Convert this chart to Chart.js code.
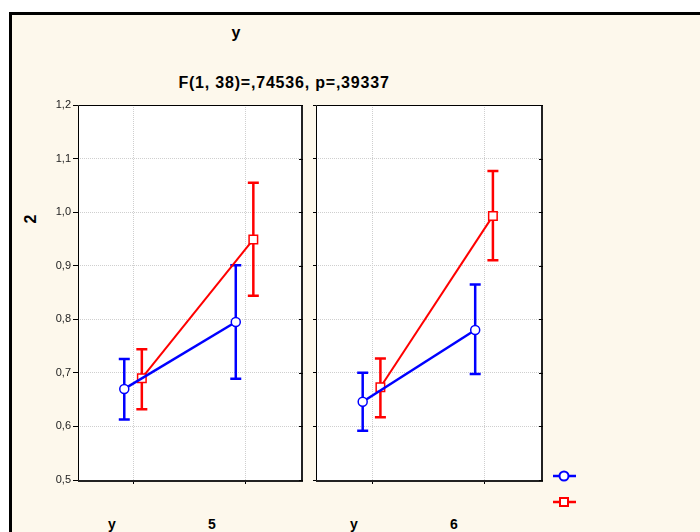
<!DOCTYPE html>
<html><head><meta charset="utf-8">
<script src="https://cdn.jsdelivr.net/npm/chart.js@4/dist/chart.umd.min.js"></script>
<style>
body{margin:0;width:700px;height:532px;overflow:hidden;background:#fff;position:relative;font-family:"Liberation Sans",Arial,sans-serif;}
#frame{position:absolute;left:9px;top:12px;width:800px;height:600px;border:3px solid #000;background:#FDF8EC;box-sizing:border-box;}
.t{position:absolute;font-weight:bold;color:#000;white-space:nowrap;transform:translateX(-50%);}
canvas{position:absolute;}
</style></head><body>
<div id="frame"></div>
<div class="t" id="tMain" style="left:236px;top:25px;font-size:16px;line-height:16px;"></div>
<div class="t" id="tStat" style="left:284px;top:75px;font-size:16px;line-height:16px;letter-spacing:0.8px;"></div>
<div class="t" id="tY" style="left:31px;top:211px;font-size:16px;line-height:16px;transform:translateX(-50%) rotate(-90deg);"></div>
<div class="t" id="xl1" style="left:112px;top:517px;font-size:14px;line-height:14px;"></div>
<div class="t" id="pl1" style="left:212px;top:517px;font-size:14px;line-height:14px;"></div>
<div class="t" id="xl2" style="left:354px;top:517px;font-size:14px;line-height:14px;"></div>
<div class="t" id="pl2" style="left:454px;top:517px;font-size:14px;line-height:14px;"></div>
<canvas id="c1" width="305" height="395" style="left:0;top:95px"></canvas>
<canvas id="c2" width="235" height="395" style="left:310px;top:95px"></canvas>
<svg style="position:absolute;left:0;top:0" width="700" height="532">
  <line x1="553" y1="476" x2="576" y2="476" stroke="#0000FF" stroke-width="2.5"/>
  <circle cx="564" cy="476" r="4.5" fill="#fff" stroke="#0000FF" stroke-width="2"/>
  <line x1="553" y1="502" x2="576" y2="502" stroke="#FF0000" stroke-width="2.5"/>
  <rect x="560" y="498" width="8" height="8" fill="#fff" stroke="#FF0000" stroke-width="2"/>
</svg>
<script>
// ---- data ----
const mainTitle = 'у';
const statTitle = 'F(1, 38)=,74536, p=,39337';
const yAxisTitle = '2';
const xAxisName = 'у';
const panelLevels = ['5', '6'];
const categoryPos = [1, 3];            // two levels of the x factor
const yTicks = [0.5, 0.6, 0.7, 0.8, 0.9, 1.0, 1.1, 1.2];
const yTickLabels = ['0,5', '0,6', '0,7', '0,8', '0,9', '1,0', '1,1', '1,2'];

// panel 1 (5)
const p1Blue     = [0.670, 0.795];
const p1BlueLow  = [0.613, 0.689];
const p1BlueHigh = [0.726, 0.901];
const p1Red      = [0.690, 0.949];
const p1RedLow   = [0.632, 0.844];
const p1RedHigh  = [0.744, 1.055];
// panel 2 (6)
const p2Blue     = [0.646, 0.780];
const p2BlueLow  = [0.592, 0.698];
const p2BlueHigh = [0.700, 0.865];
const p2Red      = [0.673, 0.993];
const p2RedLow   = [0.617, 0.910];
const p2RedHigh  = [0.727, 1.077];

document.getElementById('tMain').textContent = mainTitle;
document.getElementById('tStat').textContent = statTitle;
document.getElementById('tY').textContent = yAxisTitle;
document.getElementById('xl1').textContent = xAxisName;
document.getElementById('xl2').textContent = xAxisName;
document.getElementById('pl1').textContent = panelLevels[0];
document.getElementById('pl2').textContent = panelLevels[1];

const BLUE = '#0000FF', RED = '#FF0000';
const BLUE_SHIFT = -0.17, RED_SHIFT = 0.145;

const bgPlugin = {
  id: 'bg',
  beforeDraw(chart) {
    const a = chart.chartArea, c = chart.ctx;
    c.save(); c.fillStyle = '#fff';
    c.fillRect(a.left, a.top, a.right - a.left, a.bottom - a.top);
    c.restore();
  }
};
const errPlugin = {
  id: 'err',
  beforeDatasetsDraw(chart) {
    const c = chart.ctx, ys = chart.scales.y, xs = chart.scales.x;
    chart.data.datasets.forEach(ds => {
      c.save();
      c.strokeStyle = ds.borderColor; c.lineWidth = 2.5;
      ds.data.forEach((p, i) => {
        const x = xs.getPixelForValue(p.x);
        const y1 = ys.getPixelForValue(ds.errLow[i]);
        const y2 = ys.getPixelForValue(ds.errHigh[i]);
        c.beginPath();
        c.moveTo(x, y1); c.lineTo(x, y2);
        c.moveTo(x - 5.5, y1); c.lineTo(x + 5.5, y1);
        c.moveTo(x - 5.5, y2); c.lineTo(x + 5.5, y2);
        c.stroke();
      });
      c.restore();
    });
  }
};
const borderPlugin = {
  id: 'frameBorder',
  afterDraw(chart) {
    const a = chart.chartArea, c = chart.ctx;
    c.save();
    c.strokeStyle = '#000'; c.lineWidth = 1;
    c.beginPath();
    c.moveTo(a.left + 0.5, a.bottom); c.lineTo(a.left + 0.5, a.top + 0.5); c.lineTo(a.right, a.top + 0.5);
    c.stroke();
    c.strokeStyle = '#222'; c.lineWidth = 2;
    c.beginPath();
    c.moveTo(a.right + 1, a.top); c.lineTo(a.right + 1, a.bottom + 1); c.lineTo(a.left, a.bottom + 1);
    c.stroke();
    c.lineWidth = 1; c.strokeStyle = '#000';
    yTicks.forEach(v => {
      const y = Math.round(chart.scales.y.getPixelForValue(v)) + 0.5;
      c.beginPath(); c.moveTo(a.right - 2, y); c.lineTo(a.right + 2, y); c.stroke();
    });
    c.restore();
  }
};

function makeDataset(vals, lo, hi, color, shift, style, lw) {
  return {
    data: vals.map((v, i) => ({x: categoryPos[i] + shift, y: v})),
    errLow: lo, errHigh: hi,
    borderColor: color, backgroundColor: '#fff',
    borderWidth: lw, pointStyle: style,
    pointRadius: style === 'rect' ? 6 : 4.5,
    pointBorderWidth: 1.5, pointBackgroundColor: '#fff', pointBorderColor: color,
    showLine: true, tension: 0
  };
}

function makePanel(id, blue, bLo, bHi, red, rLo, rHi, showY, yWidth) {
  new Chart(document.getElementById(id), {
    type: 'scatter',
    data: { datasets: [
      makeDataset(blue, bLo, bHi, BLUE, BLUE_SHIFT, 'circle', 2.5),
      makeDataset(red, rLo, rHi, RED, RED_SHIFT, 'rect', 2)
    ]},
    options: {
      responsive: false, animation: false, devicePixelRatio: 1,
      layout: { autoPadding: false, padding: { top: 10, right: 4, left: 0, bottom: 0 } },
      plugins: { legend: { display: false }, tooltip: { enabled: false } },
      scales: {
        x: {
          type: 'linear', min: 0, max: 4,
          afterBuildTicks: s => { s.ticks = categoryPos.map(v => ({value: v})); },
          afterFit: s => { s.height = 10; },
          ticks: { display: false },
          grid: { color: '#cfcfcf', lineWidth: 1, tickLength: 4, tickColor: '#000' },
          border: { display: false, dash: [1, 1] }
        },
        y: {
          type: 'linear', min: 0.5, max: 1.2,
          afterBuildTicks: s => { s.ticks = yTicks.map(v => ({value: v})); },
          afterFit: s => { s.width = yWidth; },
          ticks: {
            display: showY, padding: 2,
            color: '#222', font: { family: '"Liberation Sans", Arial', size: 11 },
            callback: (v, i) => yTickLabels[i]
          },
          grid: { color: '#cfcfcf', lineWidth: 1, tickLength: showY ? 5 : 3, tickColor: '#000' },
          border: { display: false, dash: [1, 1] }
        }
      }
    },
    plugins: [bgPlugin, errPlugin, borderPlugin]
  });
}

makePanel('c1', p1Blue, p1BlueLow, p1BlueHigh, p1Red, p1RedLow, p1RedHigh, true, 78);
makePanel('c2', p2Blue, p2BlueLow, p2BlueHigh, p2Red, p2RedLow, p2RedHigh, false, 6);
</script>
</body></html>
